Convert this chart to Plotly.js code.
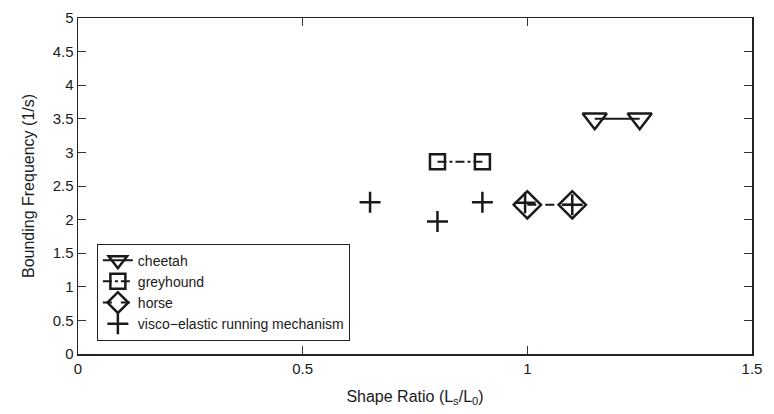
<!DOCTYPE html>
<html><head><meta charset="utf-8">
<script src="https://cdn.plot.ly/plotly-3.0.1.min.js"></script>
<style>body{margin:0;background:#fff}#c{width:774px;height:414px}</style>
</head><body><div id="c"></div>
<script>
const cheetahX = [1.15, 1.25];
const cheetahY = [3.5, 3.5];
const greyX = [0.8, 0.9];
const greyY = [2.86, 2.86];
const horseX = [1.0, 1.1];
const horseY = [2.22, 2.22];
const viscoX = [0.65, 0.8, 0.9, 0.995, 1.1];
const viscoY = [2.26, 1.97, 2.26, 2.25, 2.22];
const xTicks = [0, 0.5, 1, 1.5];
const yTicks = [0, 0.5, 1, 1.5, 2, 2.5, 3, 3.5, 4, 4.5, 5];

const traces = [
  {x: cheetahX, y: cheetahY, name: 'cheetah', mode: 'lines+markers',
   line: {color: '#1a1a1a', width: 2, dash: 'solid'},
   marker: {symbol: 'triangle-down-open', size: 21, color: '#1a1a1a', line: {width: 2.5}}},
  {x: greyX, y: greyY, name: 'greyhound', mode: 'lines+markers',
   line: {color: '#1a1a1a', width: 2, dash: 'dashdot'},
   marker: {symbol: 'square-open', size: 15, color: '#1a1a1a', line: {width: 2.5}}},
  {x: horseX, y: horseY, name: 'horse', mode: 'lines+markers',
   line: {color: '#1a1a1a', width: 2, dash: 'dash'},
   marker: {symbol: 'diamond-open', size: 21, color: '#1a1a1a', line: {width: 2.5}}},
  {x: viscoX, y: viscoY, name: 'visco\u2212elastic running mechanism', mode: 'markers',
   marker: {symbol: 'cross-thin-open', size: 15, color: '#1a1a1a', line: {width: 2.5, color: '#1a1a1a'}}}
];

const layout = {
  width: 774, height: 414,
  margin: {l: 78, r: 22, t: 18, b: 60},
  paper_bgcolor: '#fff', plot_bgcolor: '#fff',
  font: {family: 'Liberation Sans, Arial, sans-serif', size: 15, color: '#1a1a1a'},
  showlegend: true,
  legend: {x: 0.028, y: 0.04, xanchor: 'left', yanchor: 'bottom',
           bordercolor: '#222', borderwidth: 1, bgcolor: '#fff',
           font: {size: 14, color: '#1a1a1a'}, tracegroupgap: 0, itemwidth: 30},
  xaxis: {range: [0, 1.5], tickvals: xTicks, ticktext: xTicks.map(String),
          ticks: 'inside', ticklen: 8, tickcolor: '#333', showgrid: false, zeroline: false,
          showline: true, linecolor: '#222', linewidth: 1.5, mirror: 'ticks',
          title: {text: 'Shape Ratio (L<sub>s</sub>/L<sub>0</sub>)', font: {size: 16}, standoff: 15}},
  yaxis: {range: [0, 5], tickvals: yTicks, ticktext: yTicks.map(String),
          ticks: 'inside', ticklen: 8, tickcolor: '#333', showgrid: false, zeroline: false,
          showline: true, linecolor: '#222', linewidth: 1.5, mirror: 'ticks',
          title: {text: 'Bounding Frequency (1/s)', font: {size: 16}, standoff: 14}}
};
Plotly.newPlot('c', traces, layout, {staticPlot: true, displayModeBar: false});
</script></body></html>
